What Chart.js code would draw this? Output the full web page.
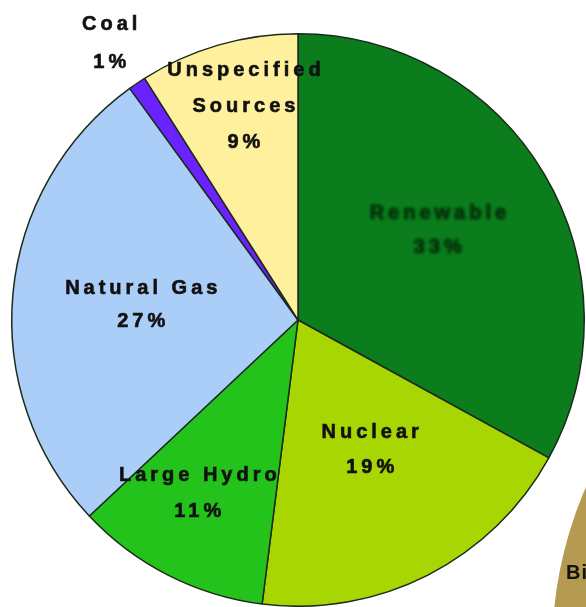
<!DOCTYPE html>
<html><head><meta charset="utf-8">
<script src="https://cdn.jsdelivr.net/npm/chart.js@4.4.1/dist/chart.umd.min.js"></script>
<style>
html,body{margin:0;padding:0;background:#fff;}
#wrap{position:relative;width:586px;height:607px;overflow:hidden;background:#fff;}
#side{position:absolute;left:552px;top:242px;width:816px;height:816px;}
#main{position:absolute;left:0;top:0;width:586px;height:607px;}
#bi{position:absolute;left:566px;top:561px;font:bold 20px "Liberation Sans",Arial,sans-serif;letter-spacing:1px;color:#111;white-space:nowrap;}
</style></head>
<body><div id="wrap">
<div id="side"><canvas id="c2"></canvas></div>
<div id="main"><canvas id="c1"></canvas></div>
<span id="bi">Biomass</span>
</div>
<script>
// ---- data ----
const categories = ["Renewable", "Nuclear", "Large Hydro", "Natural Gas", "Coal", "Unspecified\nSources"];
const shares = [33, 19, 11, 27, 1, 9];
const sliceColors = ["#0b7d1d", "#a8d602", "#24c31b", "#abcef8", "#6a22ff", "#fff09e"];
const sideCategories = ["Biomass"];
const sideShares = [100];
const sideColors = ["#b59b52"];

// ---- label plugin ----
const sliceLabels = {
  id: 'sliceLabels',
  afterDatasetsDraw(chart, args, opts) {
    const ctx = chart.ctx;
    const meta = chart.getDatasetMeta(0);
    meta.data.forEach((arc, i) => {
      const p = arc.getProps(['x', 'y', 'startAngle', 'endAngle', 'outerRadius'], true);
      const mid = (p.startAngle + p.endAngle) / 2 + opts.turn[i] * Math.PI / 180;
      const r = p.outerRadius * opts.radial[i];
      const cx = p.x + Math.cos(mid) * r, cy = p.y + Math.sin(mid) * r;
      const lines = [...categories[i].split('\n'), shares[i] + '%'];
      ctx.save();
      ctx.font = 'bold 20px "Liberation Sans", Arial, sans-serif';
      ctx.letterSpacing = opts.spacing + 'px';
      ctx.textAlign = 'center';
      ctx.textBaseline = 'middle';
      ctx.fillStyle = opts.colors[i];
      ctx.strokeStyle = opts.colors[i];
      ctx.lineWidth = 0.6;
      if (opts.blur[i]) ctx.filter = 'blur(1.4px)';
      const lh = opts.lineHeight[i];
      const y0 = cy - (lines.length - 1) * lh / 2;
      lines.forEach((t, k) => {
        ctx.fillText(t, cx + opts.spacing / 2, y0 + k * lh);
        ctx.strokeText(t, cx + opts.spacing / 2, y0 + k * lh);
      });
      ctx.restore();
    });
  }
};

new Chart(document.getElementById('c2'), {
  type: 'pie',
  data: { labels: sideCategories, datasets: [{ data: sideShares, backgroundColor: sideColors, borderWidth: 0 }] },
  options: {
    responsive: true, maintainAspectRatio: false, animation: false,
    plugins: { legend: { display: false }, tooltip: { enabled: false } }
  }
});

new Chart(document.getElementById('c1'), {
  type: 'pie',
  data: {
    labels: categories,
    datasets: [{ data: shares, backgroundColor: sliceColors, borderColor: '#1c2a1c', borderWidth: 1.5 }]
  },
  options: {
    responsive: true, maintainAspectRatio: false, animation: false,
    layout: { padding: { left: 11, right: 1, top: 33, bottom: 0 } },
    plugins: {
      legend: { display: false }, tooltip: { enabled: false },
      sliceLabels: {
        radial: [0.58, 0.52, 0.70, 0.55, 1.17, 0.77],
        turn: [-2, -2, 3, 0, 0, 2],
        colors: ['#032a08', '#111', '#111', '#111', '#111', '#111'],
        blur: [true, false, false, false, false, false],
        spacing: 4,
        lineHeight: [34, 35, 36, 33, 38, 36]
      }
    }
  },
  plugins: [sliceLabels]
});
</script>
</body></html>
